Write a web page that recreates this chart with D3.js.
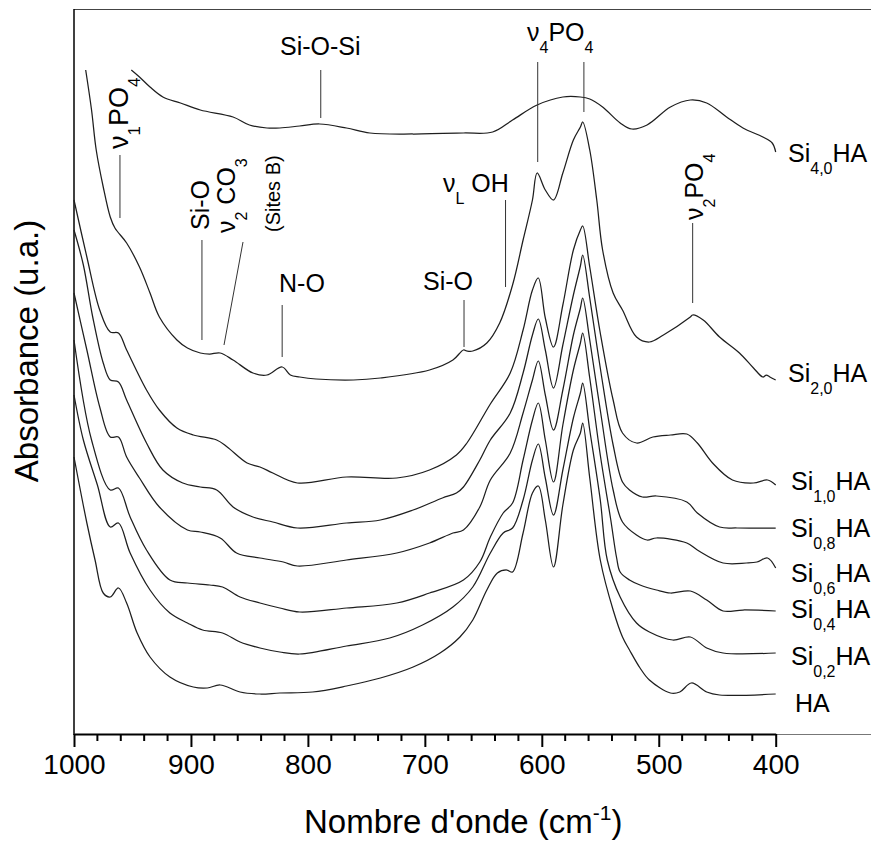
<!DOCTYPE html>
<html><head><meta charset="utf-8">
<script src="https://cdn.jsdelivr.net/npm/d3@7"></script>
<style>
body{margin:0;background:#fff}
svg text{font-family:"Liberation Sans",Arial,Helvetica,sans-serif;fill:#000}
</style>
</head><body>
<svg id="c" width="871" height="842"></svg>
<script>
// ---- data: [wavenumber (cm-1), absorbance (u.a., stacked)] ----
const si40 = [[951,6.64],[944,6.57],[935,6.47],[924,6.37],[909,6.31],[892,6.24],[864,6.17],[850,6.09],[835,6.06],[824,6.06],[807,6.08],[790,6.10],[767,6.06],[747,6.01],[710,6.00],[667,6.01],[642,6.02],[625,6.14],[604,6.29],[582,6.37],[567,6.37],[559,6.35],[548,6.27],[533,6.11],[523,6.05],[510,6.09],[490,6.27],[473,6.34],[459,6.31],[442,6.17],[428,6.06],[411,5.97],[403,5.91],[400,5.82]];
const si20 = [[990,6.64],[985,6.24],[981,5.84],[975,5.47],[969,5.17],[965,5.06],[955,4.91],[944,4.67],[935,4.41],[927,4.17],[912,3.94],[903,3.86],[892,3.81],[884,3.80],[875,3.81],[864,3.74],[847,3.61],[835,3.59],[822,3.67],[815,3.59],[807,3.57],[793,3.55],[761,3.54],[738,3.56],[696,3.64],[676,3.74],[667,3.84],[664,3.83],[659,3.83],[647,3.91],[636,4.11],[625,4.49],[616,4.94],[608,5.34],[604,5.61],[597,5.44],[590,5.34],[582,5.61],[573,5.94],[567,6.07],[565,6.12],[559,5.84],[553,5.34],[548,4.84],[539,4.41],[531,4.24],[519,3.97],[508,3.92],[496,3.99],[473,4.17],[471,4.19],[462,4.14],[448,3.97],[431,3.81],[419,3.66],[411,3.57],[408,3.59],[405,3.57],[400,3.54]];
const si10 = [[1000,5.34],[989,4.77],[978,4.24],[969,4.02],[962,4.01],[955,3.84],[938,3.44],[927,3.24],[912,3.06],[898,2.99],[878,2.94],[869,2.87],[852,2.71],[841,2.67],[830,2.61],[809,2.51],[767,2.57],[724,2.56],[696,2.64],[673,2.79],[664,2.91],[644,3.30],[627,3.61],[616,4.04],[608,4.44],[603,4.56],[597,4.16],[590,3.87],[582,4.29],[573,4.84],[567,5.04],[565,5.08],[559,4.67],[550,4.01],[539,3.34],[531,3.01],[519,2.91],[505,2.97],[490,2.99],[476,3.00],[467,2.91],[454,2.71],[437,2.54],[419,2.51],[407,2.54],[400,2.49]];
const si08 = [[1000,5.04],[992,4.69],[984,4.17],[975,3.71],[969,3.54],[962,3.52],[955,3.34],[938,2.91],[924,2.64],[907,2.51],[892,2.47],[878,2.44],[864,2.27],[847,2.17],[830,2.12],[809,2.06],[767,2.11],[738,2.14],[710,2.24],[685,2.36],[673,2.41],[667,2.47],[653,2.74],[644,2.94],[627,3.21],[616,3.61],[608,3.99],[603,4.15],[597,3.84],[590,3.46],[582,3.89],[573,4.39],[567,4.68],[565,4.79],[559,4.36],[550,3.66],[539,2.89],[531,2.52],[525,2.44],[514,2.37],[502,2.38],[476,2.32],[467,2.21],[448,2.07],[433,2.06],[402,2.06],[400,2.06]];
const si06 = [[1000,4.41],[989,3.84],[978,3.27],[969,2.97],[962,2.97],[955,2.77],[944,2.56],[927,2.27],[903,2.04],[892,2.02],[875,1.96],[861,1.81],[841,1.76],[821,1.72],[809,1.68],[767,1.74],[724,1.81],[696,1.91],[676,2.01],[667,2.04],[653,2.27],[644,2.54],[627,2.81],[616,3.21],[608,3.54],[603,3.73],[597,3.39],[590,3.04],[582,3.44],[573,3.99],[567,4.26],[565,4.36],[559,3.94],[550,3.24],[539,2.44],[531,2.12],[519,1.99],[510,1.94],[502,1.96],[476,1.91],[467,1.84],[445,1.71],[425,1.71],[416,1.72],[407,1.76],[400,1.66]];
const si04 = [[1000,3.94],[985,2.94],[969,2.44],[962,2.46],[952,2.17],[938,1.84],[918,1.54],[903,1.51],[884,1.49],[873,1.47],[858,1.37],[841,1.31],[824,1.26],[807,1.22],[767,1.26],[724,1.31],[696,1.41],[667,1.54],[653,1.72],[644,1.97],[633,2.21],[625,2.31],[616,2.74],[608,3.14],[603,3.31],[597,2.94],[590,2.52],[582,3.09],[573,3.64],[567,3.91],[565,4.01],[559,3.56],[550,2.79],[541,2.14],[536,1.76],[533,1.62],[525,1.54],[516,1.49],[502,1.44],[490,1.41],[473,1.43],[459,1.34],[445,1.23],[428,1.24],[400,1.23]];
const si02 = [[1000,3.39],[992,2.94],[980,2.49],[969,2.07],[962,2.11],[952,1.81],[935,1.44],[918,1.21],[903,1.11],[890,1.04],[873,1.01],[858,0.92],[841,0.86],[824,0.82],[807,0.80],[767,0.88],[730,0.96],[702,1.09],[676,1.27],[659,1.47],[644,1.81],[633,2.01],[625,2.06],[616,2.34],[608,2.74],[603,2.90],[597,2.56],[590,2.19],[582,2.64],[573,3.16],[567,3.41],[565,3.51],[559,3.04],[550,2.34],[544,1.74],[533,1.37],[519,1.11],[508,1.02],[488,0.94],[473,0.97],[459,0.86],[445,0.81],[400,0.81]];
const ha = [[1000,2.77],[989,2.11],[982,1.74],[975,1.41],[969,1.37],[962,1.46],[955,1.31],[946,1.01],[935,0.77],[918,0.57],[898,0.47],[886,0.46],[875,0.49],[858,0.42],[841,0.40],[824,0.41],[796,0.42],[767,0.48],[738,0.56],[710,0.67],[687,0.81],[670,0.97],[659,1.14],[647,1.44],[638,1.61],[630,1.64],[625,1.62],[616,2.01],[608,2.41],[603,2.48],[597,2.14],[590,1.67],[582,2.29],[573,2.84],[567,3.01],[565,3.11],[559,2.56],[550,1.74],[539,1.24],[531,0.97],[525,0.84],[516,0.66],[508,0.54],[490,0.41],[482,0.42],[472,0.51],[459,0.42],[448,0.39],[400,0.40]];

const seriesData = [si40, si20, si10, si08, si06, si04, si02, ha];
const seriesSubs = ["4,0","2,0","1,0","0,8","0,6","0,4","0,2",null];
const xTicks = [1000,900,800,700,600,500,400];

// ---- drawing ----
const svg = d3.select("#c");
const x = d3.scaleLinear().domain([1000,400]).range([74,775.7]);
const y = d3.scaleLinear().domain([0,7.25]).range([734,9]);
const FONT = '"Liberation Sans",Arial,Helvetica,sans-serif';

// frame
svg.append("line").attr("x1",74).attr("x2",871).attr("y1",9.5).attr("y2",9.5)
  .attr("stroke","#444").attr("stroke-width",1.2);
svg.append("line").attr("x1",x(400)).attr("x2",871).attr("y1",734.5).attr("y2",734.5)
  .attr("stroke","#777").attr("stroke-width",1);
svg.append("line").attr("x1",74).attr("x2",74).attr("y1",9).attr("y2",735)
  .attr("stroke","#000").attr("stroke-width",1.5);

// curves
const line = d3.line().x(d=>x(d[0])).y(d=>y(d[1])).curve(d3.curveCatmullRom.alpha(0.5));
seriesData.forEach(s=>{
  svg.append("path").attr("d",line(s)).attr("fill","none")
    .attr("stroke","#1e1e1e").attr("stroke-width",1.25).attr("stroke-linejoin","round");
});

// x axis
const ax = svg.append("g").attr("transform","translate(0,734)")
  .call(d3.axisBottom(x).tickValues(xTicks).tickFormat(d3.format("d"))
        .tickSize(13).tickSizeOuter(0).tickPadding(7));
ax.attr("font-family",FONT).attr("font-size",28);
ax.select(".domain").attr("stroke","#000").attr("stroke-width",2);
ax.selectAll(".tick line").attr("stroke","#000").attr("stroke-width",2);
ax.selectAll(".tick text").attr("fill","#000");
const minor = d3.range(980,400,-20).filter(v=>v%100!==0);
ax.selectAll(".minor").data(minor).enter().append("line")
  .attr("x1",d=>x(d)).attr("x2",d=>x(d)).attr("y1",0).attr("y2",7)
  .attr("stroke","#000").attr("stroke-width",2);

// rich text helper: parts = [[text, isSub]]
function rich(parent, parts, size, subSize, shift){
  const t = parent.append("text").attr("font-size",size);
  let cur = 0;
  parts.forEach(([s,sub])=>{
    const d = sub ? shift : 0;
    t.append("tspan").attr("dy",d-cur).attr("font-size",sub?subSize:size).text(s);
    cur = d;
  });
  return t;
}

// axis titles
const xt = svg.append("text").attr("x",304).attr("y",833).attr("font-size",33);
xt.append("tspan").text("Nombre d'onde (cm");
xt.append("tspan").attr("dy",-13).attr("font-size",21).text("-1");
xt.append("tspan").attr("dy",13).text(")");
svg.append("text").attr("transform","translate(38,351) rotate(-90)")
  .attr("text-anchor","middle").attr("font-size",33).text("Absorbance (u.a.)");

// series labels
const labelX = [788,788,791,791,791,791,791,795];
const labelY = [162,382,490,537,582,618,665,712];
seriesSubs.forEach((sub,i)=>{
  const g = svg.append("g").attr("transform",`translate(${labelX[i]},${labelY[i]})`);
  if(sub) rich(g,[["Si",false],[sub,true],["HA",false]],25,16,12);
  else rich(g,[["HA",false]],25,16,12);
});

// annotations
const lead = (x1,y1,x2,y2)=>svg.append("line").attr("x1",x1).attr("y1",y1).attr("x2",x2).attr("y2",y2)
  .attr("stroke","#333").attr("stroke-width",1);

// nu1 PO4 (rotated)
rich(svg.append("g").attr("transform","translate(128,149) rotate(-90)"),
  [["ν",false],["1",true],["PO",false],["4",true]],27,17,12);
lead(x(960.7),155,x(960.7),218);
// Si-O rotated
rich(svg.append("g").attr("transform","translate(209,230) rotate(-90)"),[["Si-O",false]],25,16,12);
lead(x(890.6),240,x(890.6),340);
// nu2 CO3
rich(svg.append("g").attr("transform","translate(235,233) rotate(-90)"),
  [["ν",false],["2",true],[" CO",false],["3",true]],25,16,12);
lead(243,242,224,345);
// (Sites B)
svg.append("text").attr("transform","translate(280,232) rotate(-90)").attr("font-size",20).text("(Sites B)");
// N-O
svg.append("text").attr("x",279).attr("y",292).attr("font-size",25).text("N-O");
lead(x(822),305,x(822),357);
// Si-O horizontal
svg.append("text").attr("x",423).attr("y",290).attr("font-size",25).text("Si-O");
lead(x(666.5),300,x(666.5),347);
// nuL OH
rich(svg.append("g").attr("transform","translate(443,192)"),
  [["ν",false],["L",true],[" OH",false]],25,16,12);
lead(x(631),200,x(631),287);
// nu4 PO4
rich(svg.append("g").attr("transform","translate(527,41)"),
  [["ν",false],["4",true],["PO",false],["4",true]],25,16,12);
lead(x(603.5),62,x(603.5),162);
lead(x(564),62,x(564),112);
// Si-O-Si
svg.append("text").attr("x",280).attr("y",55).attr("font-size",25).text("Si-O-Si");
lead(x(789),70,x(789),118);
// nu2 PO4 rotated
rich(svg.append("g").attr("transform","translate(703,220) rotate(-90)"),
  [["ν",false],["2",true],["PO",false],["4",true]],25,16,12);
lead(x(471),223,x(471),303);
</script>
</body></html>
